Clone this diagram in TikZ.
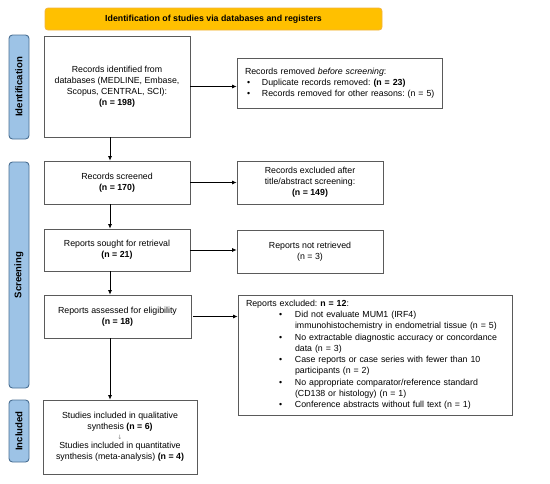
\documentclass[tikz,border=0pt]{standalone}
\usepackage{fontspec}
\setmainfont{Liberation Sans}
\newfontfamily\symfont{DejaVu Sans}
\usetikzlibrary{arrows.meta}
\definecolor{boxgray}{HTML}{5A5A5A}
\definecolor{sidefill}{HTML}{9DC3E6}
\definecolor{sideborder}{HTML}{4A6F93}
\definecolor{bannerfill}{HTML}{FFC000}
\definecolor{bannerborder}{HTML}{F2B33D}
\newcommand\bulA{\makebox[17pt][l]{\hspace{2pt}\textbullet}}
\newcommand\bulB{\hspace*{33pt}\makebox[16pt][l]{\textbullet}}
\newcommand\contB{\hspace*{49pt}}
\frenchspacing
\begin{document}
\begin{tikzpicture}[x=1pt,y=-1pt,
  font=\fontsize{8.8}{10.9}\selectfont,
  box/.style={draw=boxgray,line width=0.8pt,inner sep=0pt,align=center},
  lbox/.style={draw=boxgray,line width=0.8pt,inner xsep=8pt,inner ysep=0pt,align=left},
  side/.style={draw=sideborder,fill=sidefill,rounded corners=3.5pt,line width=0.9pt,
    rotate=90,inner sep=0pt,font=\bfseries\fontsize{9.6}{11}\selectfont},
  banner/.style={draw=bannerborder,fill=bannerfill,rounded corners=3pt,line width=0.8pt,
    inner sep=0pt,font=\bfseries\fontsize{8.8}{10.9}\selectfont},
  arr/.style={-{Latex[length=4.5pt,width=4pt]},line width=0.7pt,draw=black}]
\useasboundingbox (0,0) rectangle (550,483);

% banner
\node[banner,minimum width=337pt,minimum height=22pt] (banner) at (213.5,19)
  {Identification of studies via databases and registers};

% side bars
\node[side,minimum width=104pt,minimum height=20pt] (sideI) at (19,87) {Identification};
\node[side,minimum width=226pt,minimum height=20pt] (sideS) at (19,275) {Screening};
\node[side,minimum width=62pt,minimum height=20pt] (sideN) at (19,431) {Included};

% left column
\node[box,minimum width=146pt,minimum height=101pt] (ident) at (117,86.5)
  {Records identified from\\databases (MEDLINE, Embase,\\Scopus, CENTRAL, SCI):\\\textbf{(n = 198)}};
\node[box,minimum width=146pt,minimum height=43pt] (screened) at (117,182.5)
  {Records screened\\\textbf{(n = 170)}};
\node[box,minimum width=146pt,minimum height=42pt] (sought) at (117,250)
  {Reports sought for retrieval\\\textbf{(n = 21)}};
\node[box,minimum width=147pt,minimum height=43pt] (assessed) at (117.5,316.5)
  {Reports assessed for eligibility\\\textbf{(n = 18)}};
\node[box,minimum width=154pt,minimum height=74pt] (included) at (120,437)
  {Studies included in qualitative\\synthesis \textbf{(n = 6)}\\[-1.5pt]
   {\color{gray}\symfont\fontsize{6}{6}\selectfont ↓}\\[-1.5pt]
   Studies included in quantitative\\synthesis (meta-analysis) \textbf{(n = 4)}};

% right column
\node[lbox,text width=189pt,minimum height=50pt] (removed) at (339.5,83)
  {Records removed \textit{before screening}:\\
   \bulA\mbox{Duplicate records removed: \textbf{(n = 23)}}\\
   \bulA\mbox{Records removed for other reasons: (n = 5)}};
\node[box,minimum width=146pt,minimum height=43pt] (excl) at (310,182.5)
  {Records excluded after\\title/abstract screening:\\\textbf{(n = 149)}};
\node[box,minimum width=146pt,minimum height=43pt] (notret) at (310,251.5)
  {Reports not retrieved\\(n = 3)};
\node[lbox,text width=258pt,minimum height=120pt] (excl2) at (375,355)
  {Reports excluded: \textbf{n = 12}:\\
   \bulB Did not evaluate MUM1 (IRF4)\\
   \contB immunohistochemistry in endometrial tissue (n = 5)\\[0.8pt]
   \bulB No extractable diagnostic accuracy or concordance\\
   \contB data (n = 3)\\[0.8pt]
   \bulB Case reports or case series with fewer than 10\\
   \contB participants (n = 2)\\[0.8pt]
   \bulB No appropriate comparator/reference standard\\
   \contB (CD138 or histology) (n = 1)\\[0.8pt]
   \bulB Conference abstracts without full text (n = 1)};

% arrows
\coordinate (ax) at (110,0);
\draw[arr] (ident.south -| ax) -- (screened.north -| ax);
\draw[arr] (screened.south -| ax) -- (sought.north -| ax);
\draw[arr] (sought.south -| ax) -- (assessed.north -| ax);
\draw[arr] (assessed.south -| ax) -- (included.north -| ax);
\draw[arr] (ident.east) -- (ident.east -| removed.west);
\draw[arr] (screened.east) -- (screened.east -| excl.west);
\draw[arr] (sought.east) -- (sought.east -| notret.west);
\draw[arr] ([xshift=2pt]assessed.east) -- (assessed.east -| excl2.west);
\end{tikzpicture}
\end{document}
